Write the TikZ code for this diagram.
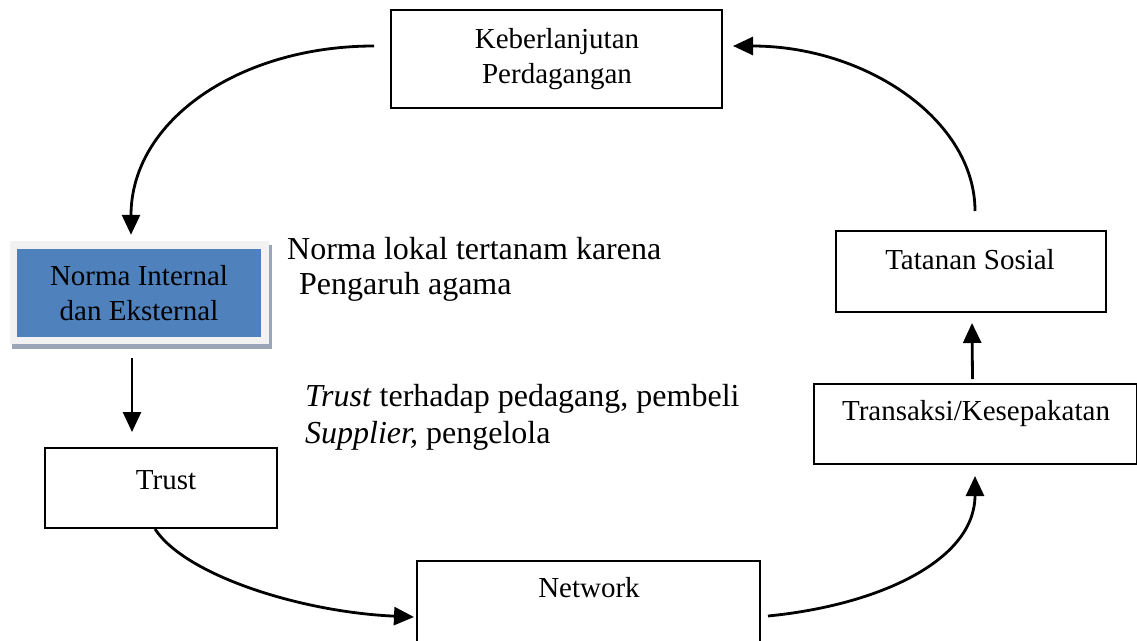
\documentclass[tikz,border=0pt]{standalone}
\usepackage{fontspec}
\setmainfont{Liberation Serif}
\usetikzlibrary{arrows.meta}
\definecolor{normablue}{HTML}{4F81BD}
\definecolor{framegray}{HTML}{F2F2F2}
\definecolor{shadowgray}{HTML}{9AA5B8}
\begin{document}
\begin{tikzpicture}[x=1pt,y=-1pt,
  box/.style={draw=black, line width=2pt, rectangle, inner sep=0pt},
  boxtext/.style={font=\fontsize{29}{35}\selectfont, align=center, inner sep=0pt},
  labtext/.style={font=\fontsize{32}{38}\selectfont, anchor=west, inner sep=0pt},
  conn/.style={line width=2.8pt, -{Triangle[length=20pt,width=18pt]}}]
\useasboundingbox (0,0) rectangle (1137,640);
% Keberlanjutan
\node[box, minimum width=331pt, minimum height=98pt] (keb) at (556.5,59) {};
\node[boxtext] (kebt) at (557,59) {Keberlanjutan\\Perdagangan};
% Norma box with frame and shadow
\fill[shadowgray] (12,245) rectangle (272,349);
\fill[framegray] (10,241) rectangle (269,344);
\node[fill=normablue, minimum width=244pt, minimum height=88pt, inner sep=0pt] (norma) at (139,293) {};
\node[boxtext] (normat) at (139,293) {Norma Internal\\dan Eksternal};
% Trust
\node[box, minimum width=232pt, minimum height=80pt] (trust) at (161,488) {};
\node[boxtext] (trustt) at (166,480) {Trust};
% Network
\node[box, minimum width=343pt, minimum height=100pt] (net) at (588.5,611) {};
\node[boxtext] (nett) at (589,588) {Network};
% Transaksi
\node[box, minimum width=323pt, minimum height=80pt] (trans) at (975.5,424) {};
\node[boxtext] (transt) at (976,414) {Transaksi/Kesepakatan};
% Tatanan
\node[box, minimum width=270pt, minimum height=81pt] (tat) at (971,271.5) {};
\node[boxtext] (tatt) at (970,260) {Tatanan Sosial};
% labels
\node[labtext] (l1) at (287,249) {Norma lokal tertanam karena};
\node[labtext] (l2) at (299,287) {Pengaruh agama};
\node[labtext] (l3) at (305,399) {\textit{Trust} terhadap pedagang, pembeli};
\node[labtext] (l4) at (305,436) {\textit{Supplier,} pengelola};
% connector end points (yshift is in page direction: positive = up)
\coordinate (c1s) at ([xshift=-16pt,yshift=13pt]keb.west);
\coordinate (c1e) at ([xshift=-8pt,yshift=14pt]norma.north);
\coordinate (c2s) at ([xshift=-7pt,yshift=-21pt]norma.south);
\coordinate (c2e) at ([xshift=-29pt,yshift=15pt]trust.north);
\coordinate (c3s) at ([xshift=-6pt,yshift=0pt]trust.south);
\coordinate (c3e) at ([xshift=-2pt,yshift=-6pt]net.west);
\coordinate (c4s) at ([xshift=7pt,yshift=-5pt]net.east);
\coordinate (c4e) at ([xshift=-0.5pt,yshift=-11pt]trans.south);
\coordinate (c5s) at ([xshift=-3pt,yshift=4pt]trans.north);
\coordinate (c5e) at ([xshift=1pt,yshift=-10pt]tat.south);
\coordinate (c6s) at ([xshift=4pt,yshift=19pt]tat.north);
\coordinate (c6e) at ([xshift=10pt,yshift=13pt]keb.east);
% connectors
\draw[conn] (c1s) .. controls (240,46) and (131,120) .. (c1e);
\draw[conn] (c2s) -- (c2e);
\draw[conn] (c3s) .. controls (185,575) and (300,612) .. (c3e);
\draw[conn] (c4s) .. controls (880,605) and (975,560) .. (c4e);
\draw[conn] (c5s) -- (c5e);
\draw[conn] (c6s) .. controls (975,120) and (866,46) .. (c6e);
\end{tikzpicture}
\end{document}
